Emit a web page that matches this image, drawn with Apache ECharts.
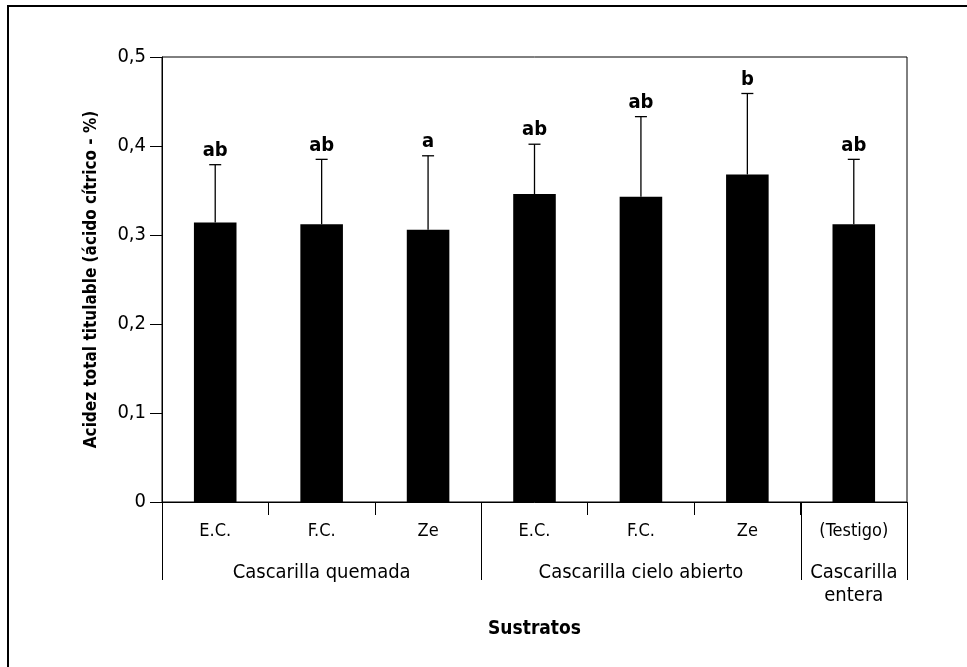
<!DOCTYPE html>
<html>
<head>
<meta charset="utf-8">
<script src="https://cdn.jsdelivr.net/npm/echarts@6/dist/echarts.min.js"></script>
<style>html,body{margin:0;padding:0;background:#fff}#c{width:967px;height:667px}</style>
</head>
<body>
<div id="c"></div>
<script>
var categories = ['E.C.', 'F.C.', 'Ze', 'E.C.', 'F.C.', 'Ze', '(Testigo)'];
var means = [0.314, 0.312, 0.306, 0.346, 0.343, 0.368, 0.312];
var upper = [0.379, 0.385, 0.389, 0.402, 0.433, 0.459, 0.385];
var letters = ['ab', 'ab', 'a', 'ab', 'ab', 'b', 'ab'];
var groups = ['Cascarilla quemada', 'Cascarilla cielo abierto', 'Cascarilla\nentera'];
var groupCenters = [1, 4, 6];
var groupBounds = [-0.5, 2.5, 5.5, 6.5];
var yTicks = [0, 0.1, 0.2, 0.3, 0.4, 0.5];

var FONT = "'Liberation Sans Narrow', 'DejaVu Sans Condensed', 'Arial Narrow', sans-serif";
var chart = echarts.init(document.getElementById('c'), null, {renderer: 'canvas'});

var errData = means.map(function (m, i) { return [i, m, upper[i]]; });

var option = {
  backgroundColor: '#fff',
  animation: false,
  graphic: [{
    type: 'rect', silent: true,
    shape: {x: 8, y: 6, width: 1100, height: 800},
    style: {fill: 'none', stroke: '#000', lineWidth: 2}
  }],
  grid: {left: 162, right: 60, top: 57, bottom: 165, show: true, borderColor: '#000', borderWidth: 1, backgroundColor: 'transparent'},
  xAxis: {
    type: 'category',
    data: categories,
    boundaryGap: true,
    name: 'Sustratos',
    nameLocation: 'middle',
    nameGap: 118,
    nameTextStyle: {fontFamily: FONT, fontSize: 19, fontWeight: 'bold', color: '#000'},
    axisLine: {lineStyle: {color: '#000', width: 1}},
    axisTick: {show: true, interval: 0, length: 13, lineStyle: {color: '#000'}},
    axisLabel: {interval: 0, margin: 20, fontFamily: FONT, fontSize: 18, color: '#000'},
    splitLine: {show: false}
  },
  yAxis: {
    type: 'value',
    min: 0, max: 0.5, interval: 0.1,
    name: 'Acidez total titulable (ácido cítrico - %)',
    nameLocation: 'middle',
    nameGap: 62,
    nameTextStyle: {fontFamily: FONT, fontSize: 17, fontWeight: 'bold', color: '#000'},
    axisLine: {show: true, lineStyle: {color: '#000', width: 1}},
    axisTick: {show: true, length: 12, lineStyle: {color: '#000'}},
    axisLabel: {
      margin: 16, fontFamily: FONT, fontSize: 20, color: '#000',
      formatter: function (v) {
        var t = yTicks.filter(function (k) { return Math.abs(k - v) < 1e-9; })[0];
        return t === 0 ? '0' : t.toFixed(1).replace('.', ',');
      }
    },
    splitLine: {show: false}
  },
  series: [
    {
      type: 'bar',
      data: means,
      barWidth: '40%',
      itemStyle: {color: '#000'},
      silent: true
    },
    {
      type: 'custom',
      data: errData,
      silent: true,
      z: 5,
      renderItem: function (params, api) {
        var i = api.value(0);
        var base = api.coord([i, api.value(1)]);
        var top = api.coord([i, api.value(2)]);
        var x = base[0];
        return {
          type: 'group',
          children: [
            {type: 'line', shape: {x1: x, y1: base[1], x2: x, y2: top[1]}, style: {stroke: '#000', lineWidth: 1.3}},
            {type: 'line', shape: {x1: x - 6, y1: top[1], x2: x + 6, y2: top[1]}, style: {stroke: '#000', lineWidth: 1.3}},
            {type: 'text', style: {x: x, y: top[1] - 4, text: letters[params.dataIndex], textAlign: 'center', textVerticalAlign: 'bottom', fontFamily: FONT, fontSize: 20, fontWeight: 'bold', fill: '#000'}}
          ]
        };
      }
    },
    {
      type: 'custom',
      data: groupBounds.map(function (b) { return [b]; }),
      silent: true,
      clip: false,
      renderItem: function (params, api) {
        var b = api.value(0);
        var band = api.size([1, 0])[0];
        var c0 = api.coord([0, 0]);
        var x = Math.round(c0[0] + (b) * band) + 0.5;
        return {type: 'line', shape: {x1: x, y1: c0[1], x2: x, y2: c0[1] + 78}, style: {stroke: '#000', lineWidth: 1}};
      }
    },
    {
      type: 'custom',
      data: groupCenters.map(function (c, i) { return [c, i]; }),
      silent: true,
      clip: false,
      renderItem: function (params, api) {
        var c = api.coord([api.value(0), 0]);
        return {type: 'text', style: {x: c[0], y: c[1] + 59, text: groups[params.dataIndex], textAlign: 'center', textVerticalAlign: 'top', fontFamily: FONT, fontSize: 20, lineHeight: 23, fill: '#000'}};
      }
    }
  ]
};
chart.setOption(option);
</script>
</body>
</html>
